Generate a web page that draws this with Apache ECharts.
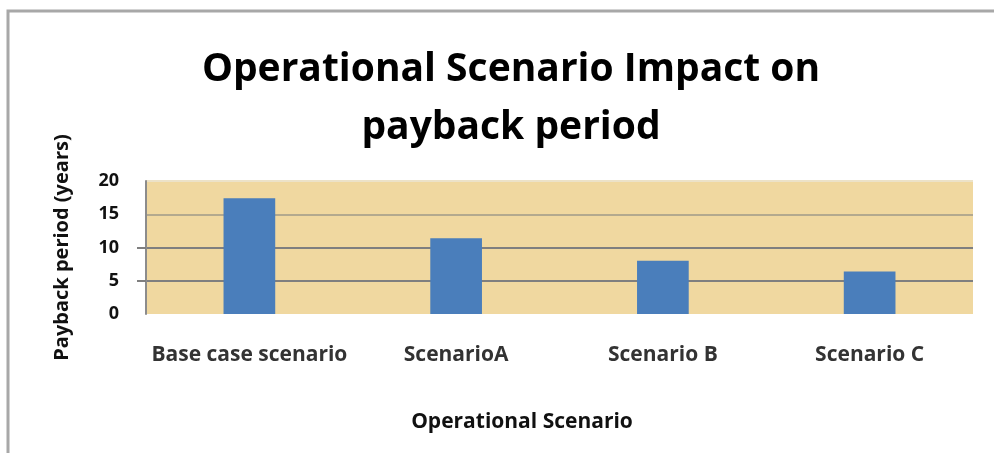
<!DOCTYPE html>
<html>
<head>
<meta charset="utf-8">
<script src="https://cdn.jsdelivr.net/npm/echarts@6/dist/echarts.min.js"></script>
<style>
html, body { margin: 0; padding: 0; background: #fff; }
#myChart { width: 994px; height: 453px; }
</style>
</head>
<body>
<div id="myChart"></div>
<script>
var scenarioList = ['Base case scenario', 'ScenarioA', 'Scenario B', 'Scenario C'];
var paybackYears = [17.4, 11.4, 8.0, 6.4];
var tickMarks = [5, 10];

var myChart = echarts.init(document.getElementById('myChart'));
var labelFont = '"Open Sans", sans-serif';

var option = {
	backgroundColor : '#ffffff',
	title : {
		text : 'Operational Scenario Impact on\npayback period',
		left : 506,
		textAlign : 'center',
		top : 36,
		textStyle : {
			fontFamily : labelFont,
			fontWeight : 'bold',
			fontSize : 39,
			lineHeight : 58,
			color : '#000'
		}
	},
	graphic : [ {
		type : 'rect',
		shape : { x : 8, y : 11, width : 1000, height : 460 },
		style : { fill : null, stroke : '#a8a8a8', lineWidth : 3 }
	} ],
	grid : {
		left : 146,
		right : 21,
		top : 181,
		bottom : 139,
		show : true,
		backgroundColor : '#f0d8a0',
		borderWidth : 0
	},
	xAxis : {
		type : 'category',
		data : scenarioList,
		name : 'Operational Scenario',
		nameLocation : 'middle',
		nameGap : 98,
		nameTextStyle : {
			fontFamily : labelFont,
			fontWeight : 'bold',
			fontSize : 21,
			color : '#111',
			padding : [ 0, 75, 0, 0 ]
		},
		axisLine : { show : false },
		axisTick : { show : false },
		axisLabel : {
			interval : 0,
			margin : 31,
			fontFamily : labelFont,
			fontWeight : 'bold',
			fontSize : 21,
			color : '#333'
		}
	},
	yAxis : [ {
		type : 'value',
		min : 0,
		max : 20,
		interval : 5,
		name : 'Payback period (years)',
		nameLocation : 'middle',
		nameGap : 74,
		nameRotate : 90,
		nameTextStyle : {
			fontFamily : labelFont,
			fontWeight : 'bold',
			fontSize : 20,
			color : '#111'
		},
		axisLine : { show : true, lineStyle : { color : '#8c8c8c', width : 2 } },
		axisTick : { show : false },
		axisLabel : {
			margin : 27,
			fontFamily : labelFont,
			fontWeight : 'bold',
			fontSize : 18,
			color : '#111'
		},
		splitLine : {
			show : true,
			lineStyle : {
				color : [ 'rgba(0,0,0,0)', '#7f7f7f', '#7f7f7f', '#b3a98e', '#ece2c8' ],
				width : 2
			}
		}
	}, {
		// only the two short tick marks on the left
		type : 'value',
		position : 'left',
		min : 0,
		max : 20,
		interval : 5,
		axisLine : { show : false },
		axisLabel : { show : false },
		splitLine : { show : false },
		axisTick : {
			show : true,
			customValues : tickMarks,
			length : 9,
			lineStyle : { color : '#7f7f7f', width : 2 }
		}
	} ],
	series : [ {
		type : 'bar',
		data : paybackYears,
		barWidth : '25%',
		itemStyle : { color : '#4a7ebb' }
	} ]
};

myChart.setOption(option);
</script>
</body>
</html>
